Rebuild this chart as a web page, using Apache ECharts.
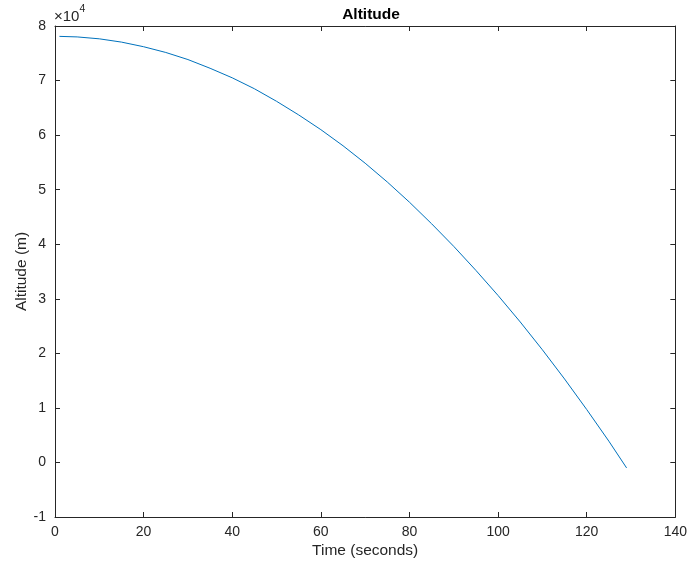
<!DOCTYPE html>
<html>
<head>
<meta charset="utf-8">
<script src="https://cdn.jsdelivr.net/npm/echarts@6/dist/echarts.min.js"></script>
<style>html,body{margin:0;padding:0;background:#fff}#c{width:690px;height:564px}</style>
</head>
<body>
<div id="c"></div>
<script>
var timeSec = [1,5,10,15,20,25,30,35,40,45,50,55,60,65,70,75,80,85,90,95,100,105,110,115,120,125,129];
var altitude = [78100,78000,77650,77050,76200,75150,73850,72250,70500,68500,66200,63700,61000,58050,54850,51400,47700,43750,39600,35200,30600,25750,20650,15300,9700,3900,-1000];
var xTicks = {min:0, max:140, interval:20};
var yTicks = {min:-10000, max:80000, interval:10000};

var font = 'Liberation Sans, Arial, Helvetica, sans-serif';
var axisColor = '#262626';
var chart = echarts.init(document.getElementById('c'), null, {renderer:'canvas'});
var pts = timeSec.map(function(t,i){return [t, altitude[i]];});
function baseAxis(extra){
  return Object.assign({
    type:'value',
    axisLine:{show:true, onZero:false, lineStyle:{color:axisColor, width:1}},
    axisTick:{show:true, inside:true, length:5, lineStyle:{color:axisColor}},
    splitLine:{show:false},
    axisLabel:{color:'#262626', fontFamily:font, fontSize:14}
  }, extra);
}
chart.setOption({
  animation:false,
  backgroundColor:'#fff',
  title:{text:'Altitude', left:366, textAlign:'center', top:2,
    textStyle:{fontFamily:font, fontSize:15.5, fontWeight:'bold', color:'#000'}},
  grid:{left:55, right:12, top:26, bottom:46},
  xAxis:[
    baseAxis({min:xTicks.min, max:xTicks.max, interval:xTicks.interval, position:'bottom',
      name:'Time (seconds)', nameLocation:'middle', nameGap:26, nameMoveOverlap:false,
      nameTextStyle:{fontFamily:font, fontSize:15.5, color:'#262626'},
      axisLabel:{color:'#262626', fontFamily:font, fontSize:14, margin:8}}),
    baseAxis({min:xTicks.min, max:xTicks.max, interval:xTicks.interval, position:'top',
      axisLabel:{show:false}})
  ],
  yAxis:[
    baseAxis({min:yTicks.min, max:yTicks.max, interval:yTicks.interval, position:'left',
      name:'Altitude (m)', nameLocation:'middle', nameGap:25, nameMoveOverlap:false,
      nameTextStyle:{fontFamily:font, fontSize:15.5, color:'#262626'},
      axisLabel:{color:'#262626', fontFamily:font, fontSize:14, margin:9,
        formatter:function(v){return String(Math.round(v/10000));}}}),
    baseAxis({min:yTicks.min, max:yTicks.max, interval:yTicks.interval, position:'right',
      axisLabel:{show:false}})
  ],
  graphic:[{
    type:'text', left:54, top:4,
    style:{
      text:'{a|×10}{b|4}',
      rich:{
        a:{fontFamily:font, fontSize:15, fill:'#262626', verticalAlign:'bottom'},
        b:{fontFamily:font, fontSize:10.5, fill:'#262626', verticalAlign:'top', padding:[0,0,9,0]}
      }
    }
  }],
  series:[{
    type:'line', data:pts, xAxisIndex:0, yAxisIndex:0,
    showSymbol:false, symbol:'none', smooth:false,
    lineStyle:{color:'#0072BD', width:1}
  }]
});
</script>
</body>
</html>
